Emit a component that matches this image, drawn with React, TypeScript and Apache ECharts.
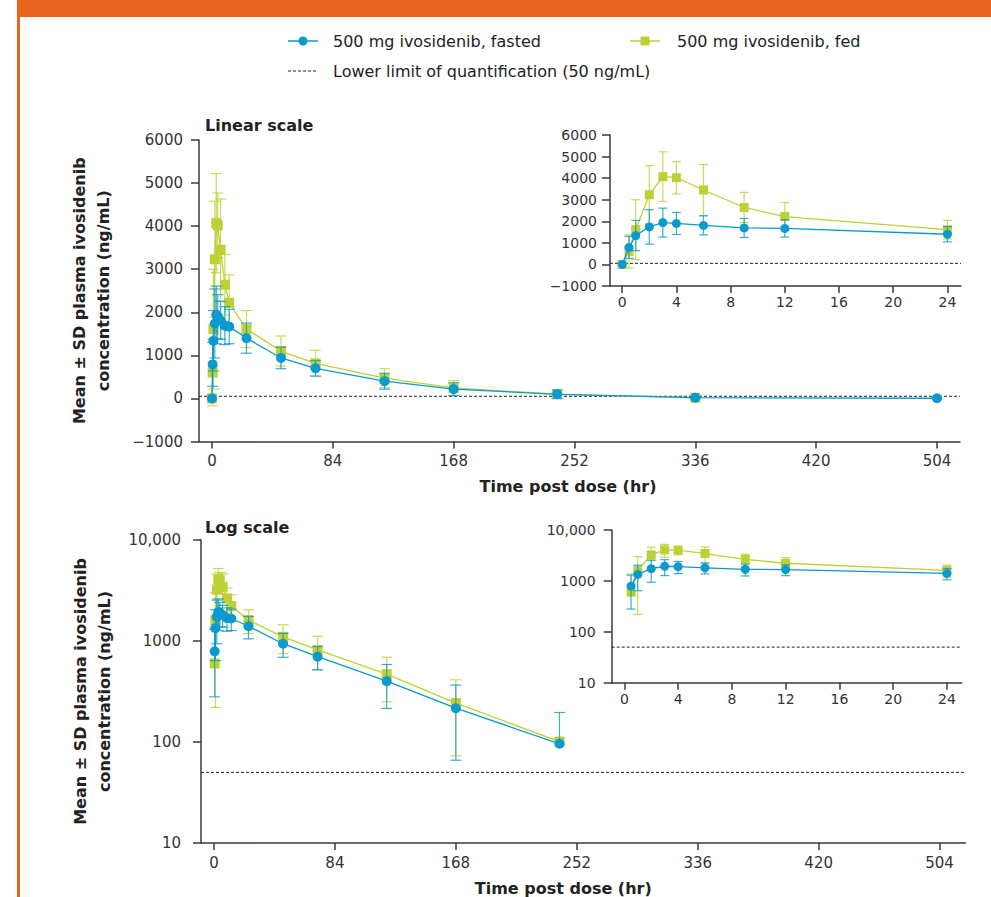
import React, { useEffect, useRef } from "react";
import * as echarts from "echarts";

// ---------- data ----------
const times = [0, 0.5, 1, 2, 3, 4, 6, 9, 12, 24, 48, 72, 120, 168, 240, 336, 504];
const fastedMean = [0, 790, 1340, 1740, 1940, 1900, 1810, 1690, 1670, 1400, 940, 700, 400, 216, 96, 18, 4];
const fastedSD = [0, 510, 700, 800, 670, 510, 440, 440, 400, 350, 250, 180, 185, 150, 100, 10, 0];
const fedMean: (number | null)[] = [0, 600, 1610, 3230, 4070, 4020, 3450, 2640, 2220, 1610, 1100, 815, 470, 243, 101, 15, null];
const fedSD: (number | null)[] = [0, 770, 1390, 1350, 1150, 750, 1180, 700, 650, 430, 350, 300, 220, 170, 8, 5, null];
const LLOQ = 50;
const mainXTicks = [0, 84, 168, 252, 336, 420, 504];
const insetXTicks = [0, 4, 8, 12, 16, 20, 24];
const insetMaxTime = 24;

const LEGEND_FASTED = "500 mg ivosidenib, fasted";
const LEGEND_FED = "500 mg ivosidenib, fed";
const LEGEND_LLOQ = "Lower limit of quantification (50 ng/mL)";
const Y_NAME = "Mean ± SD plasma ivosidenib\nconcentration (ng/mL)";
const X_NAME = "Time post dose (hr)";

// ---------- styles ----------
const FONT = "DejaVu Sans";
const FASTED = "#0A9ACD";
const FED = "#BDD135";
const AX = "#3a3a3a";
const ORANGE = "#E8641E";

type Pt = [number, number, number];

function points(mean: (number | null)[], sd: (number | null)[], filter: (t: number, m: number) => boolean): Pt[] {
  const out: Pt[] = [];
  times.forEach((t, i) => {
    const m = mean[i];
    if (m === null || m === undefined) return;
    if (!filter(t, m)) return;
    out.push([t, m, sd[i] ?? 0]);
  });
  return out;
}

function errRender(color: string, cap: number, log: boolean) {
  return (params: any, api: any) => {
    const x = api.value(0);
    const m = api.value(1);
    const sd = api.value(2);
    if (!sd) return null;
    const pM = api.coord([x, m]);
    const pHi = api.coord([x, m + sd]);
    const st = { stroke: color, lineWidth: 1.2, opacity: 0.8 };
    const children: any[] = [
      { type: "line", shape: { x1: pM[0], y1: pM[1], x2: pHi[0], y2: pHi[1] }, style: st },
      { type: "line", shape: { x1: pHi[0] - cap, y1: pHi[1], x2: pHi[0] + cap, y2: pHi[1] }, style: st },
    ];
    const lo = m - sd;
    if (!log || lo > 0) {
      const pLo = api.coord([x, lo]);
      children.push({ type: "line", shape: { x1: pM[0], y1: pM[1], x2: pLo[0], y2: pLo[1] }, style: st });
      children.push({ type: "line", shape: { x1: pLo[0] - cap, y1: pLo[1], x2: pLo[0] + cap, y2: pLo[1] }, style: st });
    }
    return { type: "group", children };
  };
}

function xAxis(gridIndex: number, min: number, max: number, ticks: number[], fontSize: number, margin: number, name?: string, namePad = 0) {
  return {
    type: "value",
    gridIndex,
    min,
    max,
    axisLine: { show: true, onZero: false, lineStyle: { color: AX, width: 1.5 } },
    axisTick: { show: true, length: 7, customValues: ticks, lineStyle: { color: AX, width: 1.5 } },
    axisLabel: { customValues: ticks, fontSize, color: "#333", margin, fontFamily: FONT },
    splitLine: { show: false },
    name: name || "",
    nameLocation: "middle",
    nameGap: 37,
    nameTextStyle: { fontSize: 16, fontWeight: "bold", color: "#222", fontFamily: FONT, padding: [0, namePad, 0, 0] },
  };
}

function yLinear(gridIndex: number, fontSize: number, margin: number, name?: string) {
  return {
    type: "value",
    gridIndex,
    min: -1000,
    max: 6000,
    interval: 1000,
    axisLine: { show: true, onZero: false, lineStyle: { color: AX, width: 1.5 } },
    axisTick: { show: true, length: 8, lineStyle: { color: AX, width: 1.5 } },
    axisLabel: {
      fontSize,
      color: "#333",
      margin,
      fontFamily: FONT,
      formatter: (v: number) => (v < 0 ? "\u2212" + Math.abs(v) : String(v)),
    },
    splitLine: { show: false },
    name: name || "",
    nameLocation: "middle",
    nameGap: 84,
    nameTextStyle: { fontSize: 16, fontWeight: "bold", color: "#222", fontFamily: FONT, lineHeight: 24, align: "center" },
  };
}

function yLog(gridIndex: number, fontSize: number, margin: number, name?: string) {
  return {
    type: "log",
    logBase: 10,
    gridIndex,
    min: 10,
    max: 10000,
    axisLine: { show: true, onZero: false, lineStyle: { color: AX, width: 1.5 } },
    axisTick: { show: true, length: 8, lineStyle: { color: AX, width: 1.5 } },
    axisLabel: {
      fontSize,
      color: "#333",
      margin,
      fontFamily: FONT,
      formatter: (v: number) => (v >= 10000 ? "10,000" : String(Math.round(v))),
    },
    minorTick: { show: false },
    splitLine: { show: false },
    name: name || "",
    nameLocation: "middle",
    nameGap: 85,
    nameTextStyle: { fontSize: 16, fontWeight: "bold", color: "#222", fontFamily: FONT, lineHeight: 24, align: "center" },
  };
}

function seriesFor(g: number, log: boolean, inset: boolean, xMin: number, xMax: number) {
  const filter = (t: number, m: number) => (!inset || t <= insetMaxTime) && (!log || m >= LLOQ);
  const fas = points(fastedMean, fastedSD, filter);
  const fed = points(fedMean, fedSD, filter);
  const cap = inset ? 4.5 : 5.5;
  const size = inset ? 9 : 10;
  return [
    {
      type: "line",
      name: "LLOQ",
      xAxisIndex: g,
      yAxisIndex: g,
      data: [[xMin, LLOQ], [xMax, LLOQ]],
      symbol: "none",
      lineStyle: { color: "#222", width: 1, type: [3, 2] },
      z: 1,
      silent: true,
    },
    {
      type: "custom",
      xAxisIndex: g,
      yAxisIndex: g,
      data: fed,
      renderItem: errRender(FED, cap, log),
      encode: { x: 0, y: 1 },
      z: 2,
      silent: true,
    },
    {
      type: "line",
      name: LEGEND_FED,
      xAxisIndex: g,
      yAxisIndex: g,
      data: fed.map((p) => [p[0], p[1]]),
      symbol: "rect",
      symbolSize: size,
      lineStyle: { color: FED, width: 1.3 },
      itemStyle: { color: FED },
      z: 3,
    },
    {
      type: "custom",
      xAxisIndex: g,
      yAxisIndex: g,
      data: fas,
      renderItem: errRender(FASTED, cap, log),
      encode: { x: 0, y: 1 },
      z: 4,
      silent: true,
    },
    {
      type: "line",
      name: LEGEND_FASTED,
      xAxisIndex: g,
      yAxisIndex: g,
      data: fas.map((p) => [p[0], p[1]]),
      symbol: "circle",
      symbolSize: size,
      lineStyle: { color: FASTED, width: 1.3 },
      itemStyle: { color: FASTED },
      z: 5,
    },
  ];
}

const txt = { fontFamily: FONT, fontSize: 16, fill: "#222" };

const option: any = {
  animation: false,
  backgroundColor: "#fff",
  textStyle: { fontFamily: FONT },
  title: [
    { text: "Linear scale", left: 205, top: 117, padding: 0, textStyle: { fontSize: 16, fontWeight: "bold", color: "#222", fontFamily: FONT } },
    { text: "Log scale", left: 205, top: 519, padding: 0, textStyle: { fontSize: 16, fontWeight: "bold", color: "#222", fontFamily: FONT } },
  ],
  grid: [
    { left: 199, top: 140, width: 761, height: 301.5 },
    { left: 610, top: 135, width: 351, height: 151 },
    { left: 201, top: 540, width: 764.5, height: 303.3 },
    { left: 611.7, top: 530, width: 350, height: 152.7 },
  ],
  xAxis: [
    xAxis(0, -9, 520, mainXTicks, 15, 12, X_NAME, 23),
    xAxis(1, -0.9, 25, insetXTicks, 14, 9),
    xAxis(2, -9, 522, mainXTicks, 15, 12, X_NAME, 40),
    xAxis(3, -0.94, 25.1, insetXTicks, 14, 9),
  ],
  yAxis: [yLinear(0, 15, 16, Y_NAME), yLinear(1, 14, 13), yLog(2, 15, 20, Y_NAME), yLog(3, 14, 16)],
  series: [
    ...seriesFor(0, false, false, -9, 520),
    ...seriesFor(1, false, true, -0.9, 25),
    ...seriesFor(2, true, false, -9, 522),
    ...seriesFor(3, true, true, -0.94, 25.1),
  ],
  graphic: [
    { type: "rect", shape: { x: 17, y: 0, width: 974, height: 17 }, style: { fill: ORANGE } },
    { type: "rect", shape: { x: 17, y: 0, width: 3, height: 897 }, style: { fill: ORANGE } },
    { type: "line", shape: { x1: 288, y1: 41, x2: 318, y2: 41 }, style: { stroke: FASTED, lineWidth: 1.5 } },
    { type: "circle", shape: { cx: 303, cy: 41, r: 4.5 }, style: { fill: FASTED } },
    { type: "text", x: 333, y: 41, style: { ...txt, text: LEGEND_FASTED, verticalAlign: "middle" } },
    { type: "line", shape: { x1: 630, y1: 41, x2: 660, y2: 41 }, style: { stroke: FED, lineWidth: 1.5 } },
    { type: "rect", shape: { x: 640.5, y: 36.5, width: 9, height: 9 }, style: { fill: FED } },
    { type: "text", x: 677, y: 41, style: { ...txt, text: LEGEND_FED, verticalAlign: "middle" } },
    { type: "line", shape: { x1: 288, y1: 71, x2: 318, y2: 71 }, style: { stroke: "#222", lineWidth: 1, lineDash: [3, 2] } },
    { type: "text", x: 333, y: 71, style: { ...txt, text: LEGEND_LLOQ, verticalAlign: "middle" } },
  ],
};

export default function App() {
  const ref = useRef<HTMLDivElement>(null);
  useEffect(() => {
    const chart = echarts.init(ref.current!, null, { renderer: "svg" });
    chart.setOption(option);
    return () => chart.dispose();
  }, []);
  return (
    <div
      ref={ref}
      style={{ position: "fixed", left: 0, top: 0, width: 991, height: 897, background: "#fff" }}
    />
  );
}
